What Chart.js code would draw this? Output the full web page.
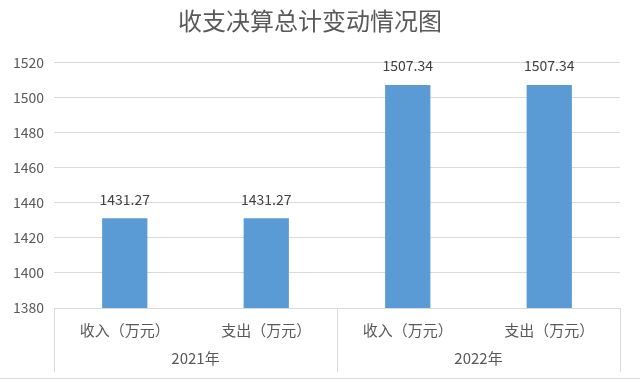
<!DOCTYPE html>
<html>
<head>
<meta charset="utf-8">
<script src="https://cdn.jsdelivr.net/npm/chart.js@4/dist/chart.umd.min.js"></script>
<style>
  body { margin: 0; background: #fff; }
  #wrap { width: 640px; height: 382px; }
</style>
</head>
<body>
<div id="wrap"><canvas id="budgetChart"></canvas></div>
<script>
// categories and values
const categories = ['收入（万元）', '支出（万元）', '收入（万元）', '支出（万元）'];
const groups = ['2021年', '2022年'];
const groupSize = 2;
const values = [1431.27, 1431.27, 1507.34, 1507.34];
const yTicks = [1380, 1400, 1420, 1440, 1460, 1480, 1500, 1520];

const FONT = "'Noto Sans CJK SC', 'Noto Sans', sans-serif";
const TEXT_GREY = '#595959';
const LINE_GREY = '#d9d9d9';

// group labels, separators and value labels
const extrasPlugin = {
    id: 'extras',
    afterDraw(chart) {
        const ctx = chart.ctx;
        const x = chart.scales.x;
        const area = chart.chartArea;
        const half = (x.getPixelForValue(1) - x.getPixelForValue(0)) / 2;

        ctx.save();
        // separators between groups
        ctx.strokeStyle = LINE_GREY;
        ctx.lineWidth = 1;
        for (let g = 0; g <= groups.length; g++) {
            let px = Math.round(x.getPixelForValue(g * groupSize) - half) + 0.5;
            ctx.beginPath();
            ctx.moveTo(px, area.bottom);
            ctx.lineTo(px, area.bottom + 64);
            ctx.stroke();
        }
        // bottom border line
        ctx.beginPath();
        ctx.moveTo(0, 378.5);
        ctx.lineTo(chart.width, 378.5);
        ctx.stroke();

        // group labels
        ctx.fillStyle = TEXT_GREY;
        ctx.font = '15px ' + FONT;
        ctx.textAlign = 'center';
        ctx.textBaseline = 'middle';
        groups.forEach((g, i) => {
            let left = x.getPixelForValue(i * groupSize) - half;
            let right = x.getPixelForValue(i * groupSize + groupSize - 1) + half;
            ctx.fillText(g, (left + right) / 2, area.bottom + 50);
        });

        // value labels above bars
        ctx.fillStyle = '#404040';
        ctx.font = '14px ' + FONT;
        ctx.textBaseline = 'bottom';
        chart.getDatasetMeta(0).data.forEach((bar, i) => {
            ctx.fillText(values[i].toFixed(2), bar.x, bar.y - 12);
        });
        ctx.restore();
    }
};

const ctx = document.getElementById('budgetChart').getContext('2d');
new Chart(ctx, {
    type: 'bar',
    data: {
        labels: categories,
        datasets: [{
            data: values,
            backgroundColor: '#5b9bd5',
            categoryPercentage: 1,
            barPercentage: 0.32
        }]
    },
    options: {
        responsive: true,
        maintainAspectRatio: false,
        animation: false,
        layout: { padding: { left: 0, right: 20, top: 0, bottom: 4 } },
        plugins: {
            legend: { display: false },
            tooltip: { enabled: false },
            title: {
                display: true,
                text: '收支决算总计变动情况图',
                color: TEXT_GREY,
                font: { family: FONT, size: 24, weight: 'normal' },
                padding: { top: 6, bottom: 28 }
            }
        },
        scales: {
            x: {
                grid: { display: false },
                border: { display: true, color: LINE_GREY },
                ticks: { color: TEXT_GREY, font: { family: FONT, size: 15 }, padding: 5, maxRotation: 0 },
                afterFit(scale) { scale.height = 70; }
            },
            y: {
                min: 1380,
                max: 1520,
                afterBuildTicks(scale) { scale.ticks = yTicks.map(v => ({ value: v })); },
                grid: { color: LINE_GREY, drawTicks: false },
                border: { display: false },
                ticks: {
                    color: TEXT_GREY, font: { family: FONT, size: 14 }, padding: 10,
                    callback: v => String(v)
                },
                afterFit(scale) { scale.width = 54; }
            }
        }
    },
    plugins: [extrasPlugin]
});
</script>
</body>
</html>
